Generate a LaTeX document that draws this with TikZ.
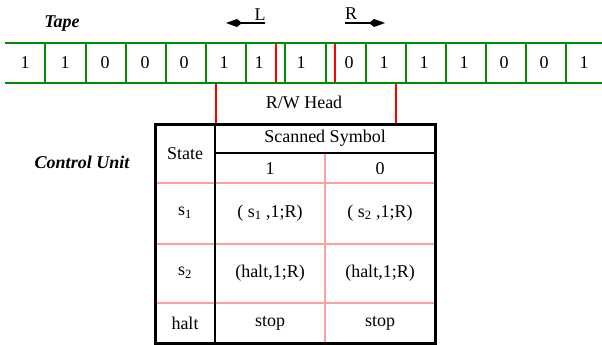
\documentclass[tikz,border=0pt]{standalone}
\usepackage{fontspec}
\setmainfont{Liberation Serif}
\usetikzlibrary{arrows.meta}
\definecolor{tapegreen}{RGB}{0,140,0}
\definecolor{gridpink}{RGB}{255,160,160}

\begin{document}
\begin{tikzpicture}[x=1pt,y=-1pt,font=\fontsize{18}{21}\selectfont,
	move/.style={-{Kite[length=16pt,width=8pt,inset=5pt]}, line width=1.2pt}]

				\useasboundingbox (0,0) rectangle (602,345);

				\node (tape) at (62,24) {\bfseries\itshape Tape};
				\node (cu) at (82,162) {\bfseries\itshape Control Unit};

				% HEAD
				\coordinate (hl) at (216,125);
				\coordinate (hr) at (396,125);
				\draw[red, line width=2pt] (hl) -- (216,83) -- (276,83) -- (276,43.5) -- (335,43.5) -- (335,83) -- (396,83) -- (hr);
				\node (head) at (304,102) {R/W Head};

				% MOVES
				\coordinate (l0) at (265,23);
				\coordinate (l1) at (226,23);
				\draw[move] (l0) to (l1);
				\node (ml) at (260,15) {L};
				\coordinate (r0) at (345,23);
				\coordinate (r1) at (385,23);
				\draw[move] (r0) to (r1);
				\node (mr) at (351,14) {R};

				% TAPE
				\draw[tapegreen, line width=2pt] (5,43.5) -- (602,43.5);
				\draw[tapegreen, line width=2pt] (5,83) -- (602,83);
				\foreach \x in {45,86,126,166,206,246,285,326,366,406,446,486,526,566}
					\draw[tapegreen, line width=2pt] (\x,43.5) -- (\x,83);

				\node (c1) at (25,63) {1};
				\node (c2) at (65,63) {1};
				\node (c3) at (105,63) {0};
				\node (c4) at (145,63) {0};
				\node (c5) at (184,63) {0};
				\node (c6) at (224,63) {1};
				\node (c7) at (259,63) {1};
				\node (c8) at (301,63) {1};
				\node (c9) at (349,63) {0};
				\node (c10) at (384,63) {1};
				\node (c11) at (424,63) {1};
				\node (c12) at (464,63) {1};
				\node (c13) at (504,63) {0};
				\node (c14) at (544,63) {0};
				\node (c15) at (584,63) {1};

				% TABLE
				\draw[gridpink, line width=2pt] (155,183) -- (435,183);
				\draw[gridpink, line width=2pt] (155,244) -- (435,244);
				\draw[gridpink, line width=2pt] (155,303) -- (435,303);
				\draw[gridpink, line width=2pt] (325,153) -- (325,343);
				\draw[line width=1.5pt] (215,124) -- (215,343);
				\draw[line width=2pt] (215,153) -- (435,153);
				\draw[line width=3pt] (155,124) rectangle (435,343);

				\node (st) at (185,154) {State};
				\node (ss) at (325,138) {Scanned Symbol};
				\node (y1) at (270,169) {1};
				\node (y0) at (380,169) {0};

				\node (q1) at (185,213) {s\textsubscript{1}};
				\node (q1a) at (270,213) {( s\textsubscript{1} ,1;R)};
				\node (q1b) at (380,213) {( s\textsubscript{2} ,1;R)};

				\node (q2) at (185,273) {s\textsubscript{2}};
				\node (q2a) at (270,273) {(halt,1;R)};
				\node (q2b) at (380,273) {(halt,1;R)};

				\node (qh) at (185,323) {halt};
				\node (qha) at (270,323) {stop};
				\node (qhb) at (380,323) {stop};
			\end{tikzpicture}
\end{document}
